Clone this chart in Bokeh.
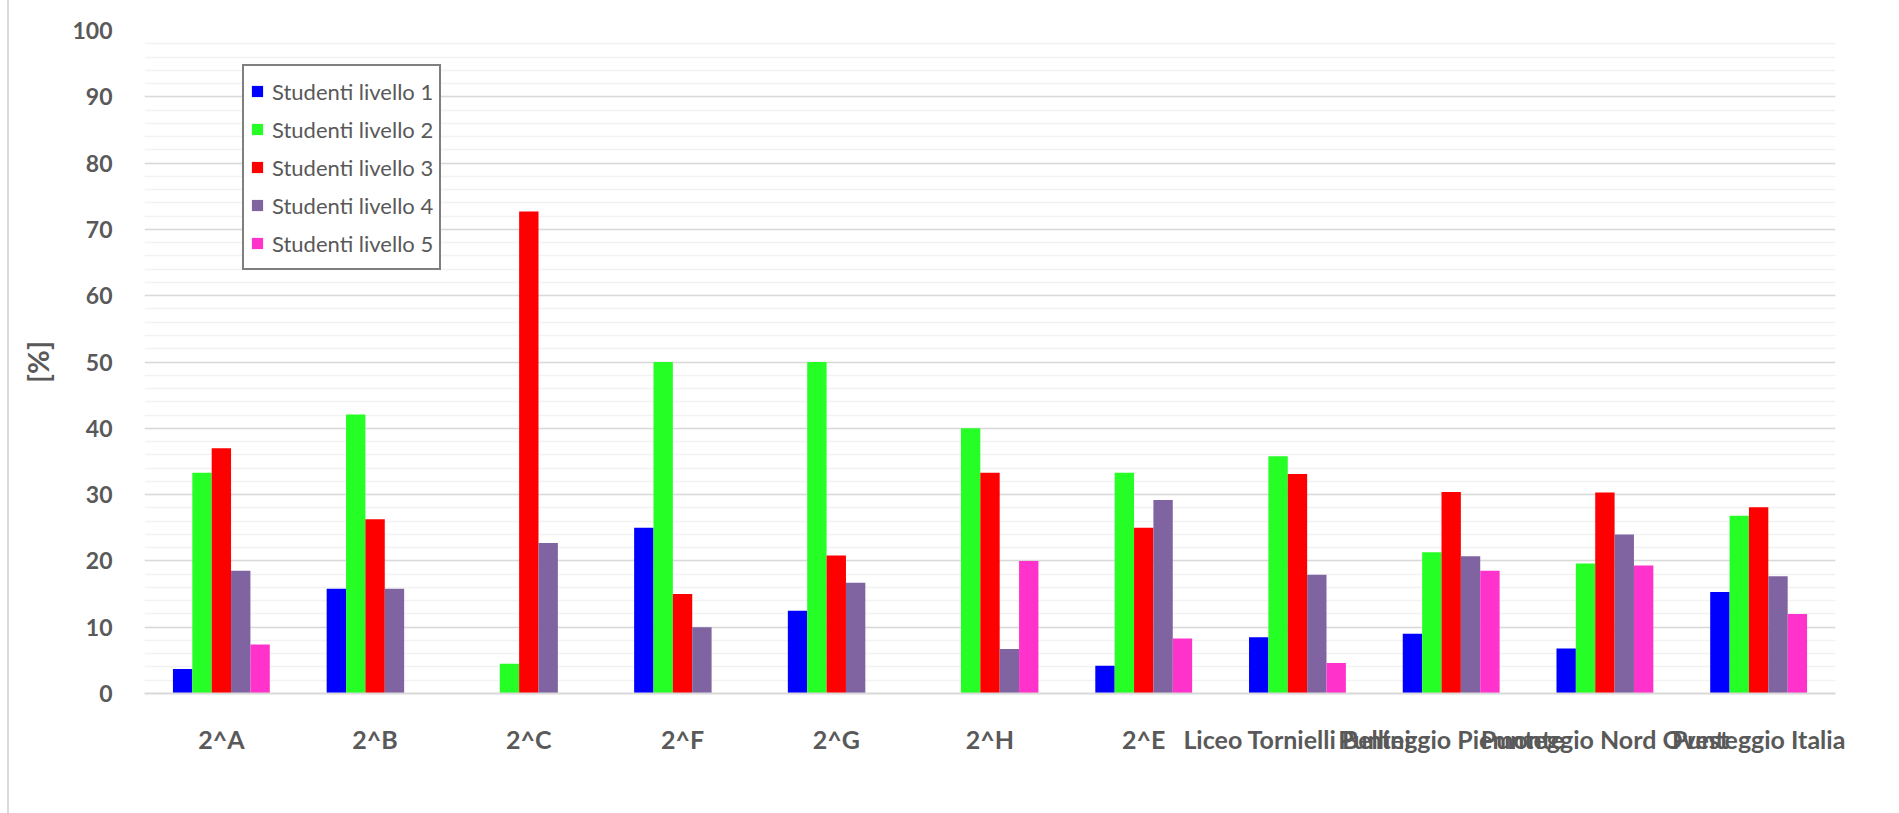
from bokeh.plotting import figure
from bokeh.models import FactorRange, Range1d, FixedTicker, Legend, LegendItem
from bokeh.transform import dodge
from bokeh.models import ColumnDataSource
from bokeh.embed import file_html
from bokeh.resources import INLINE

categories = ["2^A", "2^B", "2^C", "2^F", "2^G", "2^H", "2^E",
              "Liceo Tornielli Bellini", "Punteggio Piemonte", "Punteggio Nord Ovest", "Punteggio Italia"]
livello1 = [3.7, 15.8, 0, 25.0, 12.5, 0, 4.2, 8.5, 9.0, 6.8, 15.3]
livello2 = [33.3, 42.1, 4.5, 50.0, 50.0, 40.0, 33.3, 35.8, 21.3, 19.6, 26.8]
livello3 = [37.0, 26.3, 72.7, 15.0, 20.8, 33.3, 25.0, 33.1, 30.4, 30.3, 28.1]
livello4 = [18.5, 15.8, 22.7, 10.0, 16.7, 6.7, 29.2, 17.9, 20.7, 24.0, 17.7]
livello5 = [7.4, 0, 0, 0, 0, 20.0, 8.3, 4.6, 18.5, 19.3, 12.0]
series_names = ["Studenti livello 1", "Studenti livello 2", "Studenti livello 3",
                "Studenti livello 4", "Studenti livello 5"]
colors = ["#0000FF", "#26FF26", "#FF0000", "#8064A2", "#FF33CC"]
y_ticks = list(range(0, 101, 10))

source = ColumnDataSource(dict(cat=categories, l1=livello1, l2=livello2, l3=livello3,
                               l4=livello4, l5=livello5))

W, H = 1880, 813
p = figure(x_range=FactorRange(*categories), y_range=Range1d(0, 100),
           width=W, height=H, output_backend="svg", toolbar_location=None,
           min_border_left=135, min_border_right=54, min_border_top=30, min_border_bottom=120)
p.x_range.range_padding = 0
p.outline_line_color = None
p.background_fill_color = "white"
p.border_fill_color = "white"
p.styles = {"border-left": "2px solid #d9d9d9", "margin-left": "7px"}

bw = 0.126
offsets = [-2 * bw, -bw, 0, bw, 2 * bw]
cols = ["l1", "l2", "l3", "l4", "l5"]
renderers = []
for c, off, col in zip(cols, offsets, colors):
    r = p.vbar(x=dodge("cat", off, range=p.x_range), top=c, width=bw, source=source,
               fill_color=col, line_color=None)
    renderers.append(r)

# axes
p.yaxis.ticker = FixedTicker(ticks=y_ticks, minor_ticks=list(range(0, 101, 2)))
p.yaxis.axis_line_color = None
p.yaxis.major_tick_line_color = None
p.yaxis.minor_tick_line_color = None
p.yaxis.major_label_standoff = 26
p.yaxis.major_label_text_font = "Lato"
p.yaxis.major_label_text_font_style = "bold"
p.yaxis.major_label_text_font_size = "23px"
p.yaxis.major_label_text_color = "#595959"
p.yaxis.axis_label = "[%]"
p.yaxis.axis_label_text_font = "Lato"
p.yaxis.axis_label_text_font_style = "bold"
p.yaxis.axis_label_text_font_size = "29px"
p.yaxis.axis_label_text_color = "#595959"
p.yaxis.axis_label_standoff = 14

p.xaxis.axis_line_color = "#d9d9d9"
p.xaxis.axis_line_width = 2
p.xaxis.major_tick_line_color = None
p.xaxis.minor_tick_line_color = None
p.xaxis.major_label_standoff = 24
p.xaxis.major_label_text_font = "Lato"
p.xaxis.major_label_text_font_style = "bold"
p.xaxis.major_label_text_font_size = "25px"
p.xaxis.major_label_text_color = "#595959"

p.xgrid.grid_line_color = None
p.ygrid.grid_line_color = "#d9d9d9"
p.ygrid.grid_line_width = 1.5
p.ygrid.minor_grid_line_color = "#f2f2f2"
p.ygrid.minor_grid_line_width = 1.5

legend = Legend(items=[LegendItem(label=n, renderers=[r]) for n, r in zip(series_names, renderers)],
                location=(98, 423))
legend.border_line_color = "black"
legend.border_line_width = 2
legend.background_fill_color = "white"
legend.background_fill_alpha = 1
legend.padding = 6
legend.spacing = 0
legend.margin = 0
legend.glyph_width = 14
legend.glyph_height = 14
legend.label_height = 38
legend.label_standoff = 8
legend.label_text_font = "Lato"
legend.label_text_font_size = "22px"
legend.label_text_color = "#595959"
p.add_layout(legend, "center")

open("out.html", "w").write(file_html(p, INLINE))
